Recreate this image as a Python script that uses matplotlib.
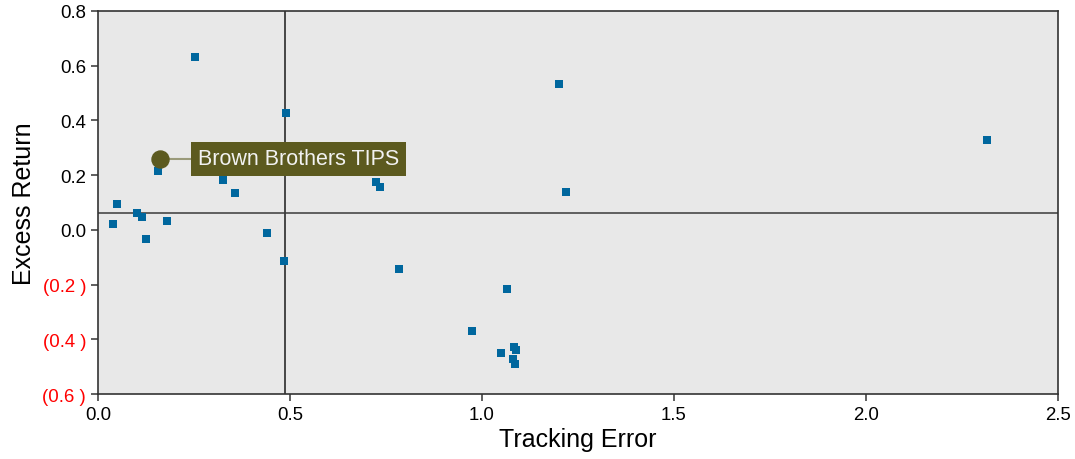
import numpy as np
import matplotlib.pyplot as plt
from matplotlib.ticker import FuncFormatter

plt.rcParams['font.family'] = ['Liberation Sans', 'DejaVu Sans']

# Tracking error vs excess return for the peer funds
tracking_error = [0.253, 0.490, 0.156, 0.326, 0.372, 0.396, 0.357, 0.049, 0.039,
                  0.102, 0.115, 0.125, 0.180, 0.440, 0.484, 0.723, 0.735, 1.201,
                  1.220, 0.785, 1.066, 0.975, 1.050, 1.084, 1.089, 1.081, 1.087,
                  2.315]
excess_return = [0.632, 0.428, 0.216, 0.183, 0.210, 0.210, 0.135, 0.095, 0.022,
                 0.062, 0.048, -0.033, 0.033, -0.011, -0.113, 0.174, 0.156, 0.532,
                 0.138, -0.144, -0.217, -0.370, -0.451, -0.429, -0.440, -0.473, -0.491,
                 0.329]

# highlighted fund
fund_name = "Brown Brothers TIPS"
fund_te = 0.161
fund_er = 0.259

# averages (reference lines)
avg_te = 0.487
avg_er = 0.062

fig = plt.figure(figsize=(10.75, 4.6), dpi=100)
ax = fig.add_axes([0.0912, 0.1413, 0.8928, 0.8327])
ax.set_facecolor('#e8e8e8')

ax.axvline(avg_te, color='#1a1a1a', lw=1.1, zorder=1)
ax.axhline(avg_er, color='#3a3a3a', lw=1.1, zorder=1)

ax.scatter(tracking_error, excess_return, marker='s', s=30, color='#00679e',
           linewidths=0, zorder=3)

# label for the highlighted fund
ax.annotate(fund_name, xy=(fund_te, fund_er), xytext=(fund_te + 0.1, fund_er),
            va='center', ha='left', color='#f2f2f2', fontsize=15.5,
            bbox=dict(boxstyle='square,pad=0.32', fc='#5c5a1f', ec='none'),
            arrowprops=dict(arrowstyle='-', color='#9a9a7a', lw=1.5, shrinkA=0, shrinkB=0),
            zorder=5)
ax.scatter([fund_te], [fund_er], s=150, color='#5c5a1f', zorder=6)

ax.set_xlim(0, 2.5)
ax.set_ylim(-0.6, 0.8)
ax.set_xticks(np.arange(0, 2.51, 0.5))
ax.set_yticks(np.arange(-0.6, 0.81, 0.2))


def fmt(v, pos):
    if v < -1e-9:
        return f"({abs(v):.1f} )"
    return f"{abs(v):.1f}"


ax.yaxis.set_major_formatter(FuncFormatter(fmt))
ax.xaxis.set_major_formatter(FuncFormatter(lambda v, p: f"{v:.1f}"))
for lab, v in zip(ax.get_yticklabels(), ax.get_yticks()):
    if v < -1e-9:
        lab.set_color('red')

ax.tick_params(labelsize=13.4, length=5, color='#444444', width=1.2)
for s in ax.spines.values():
    s.set_color('#333333')
    s.set_linewidth(1.2)

ax.set_xlabel("Tracking Error", fontsize=18, labelpad=3)
ax.set_ylabel("Excess Return", fontsize=18, labelpad=5)

fig.savefig('out.png', dpi=100)
